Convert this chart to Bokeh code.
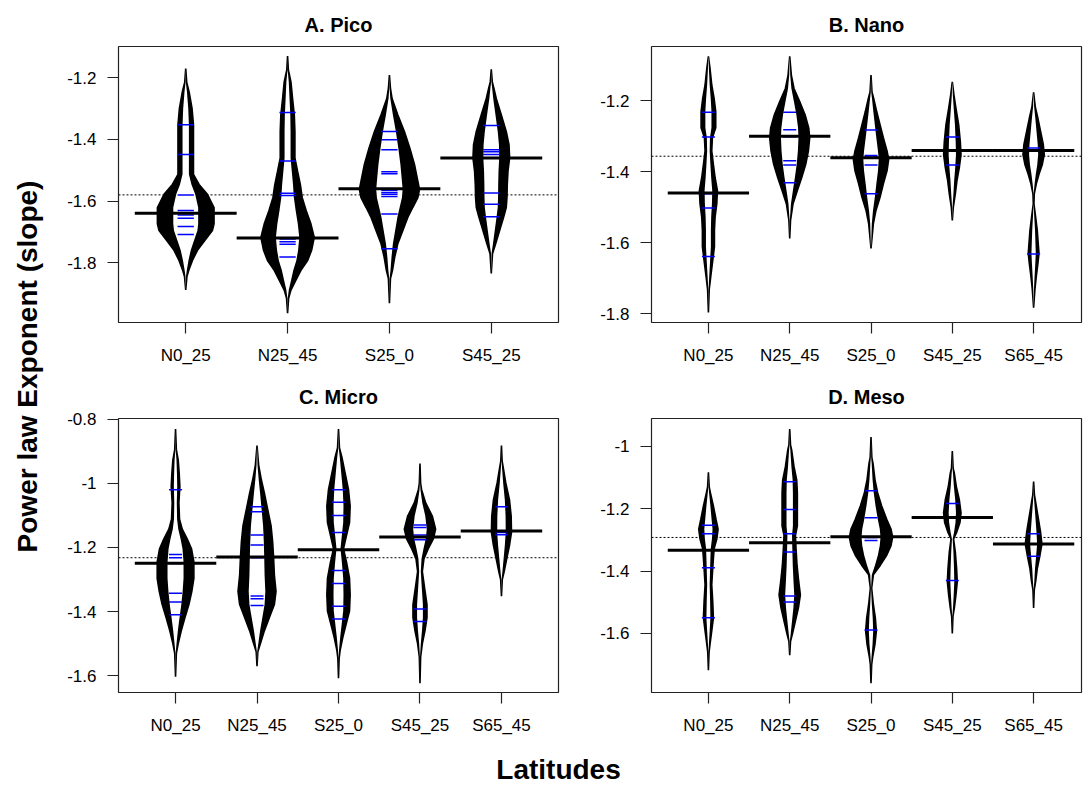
import math
from bokeh.plotting import figure
from bokeh.models import Range1d, FixedTicker, NumeralTickFormatter, Span, Label
from bokeh.layouts import row, column
from bokeh.embed import file_html
from bokeh.resources import INLINE

FONT = "Liberation Sans"

# ---------------- data ----------------
groups4 = ["N0_25", "N25_45", "S25_0", "S45_25"]
groups5 = ["N0_25", "N25_45", "S25_0", "S45_25", "S65_45"]

# A. Pico
pico_means = [-1.64, -1.72, -1.56, -1.46]
pico_overall = -1.58
pico_obs = [
    [-1.352, -1.449, -1.580, -1.631, -1.645, -1.656, -1.683, -1.709],
    [-1.312, -1.470, -1.575, -1.582, -1.723, -1.732, -1.740, -1.782],
    [-1.374, -1.401, -1.433, -1.505, -1.511, -1.565, -1.572, -1.578, -1.585, -1.642, -1.755],
    [-1.355, -1.433, -1.440, -1.449, -1.460, -1.574, -1.610, -1.651],
]
pico_dens_y = [
    [-1.170, -1.215, -1.245, -1.299, -1.352, -1.513, -1.546, -1.578, -1.621, -1.674, -1.696, -1.728, -1.760, -1.793, -1.825, -1.845, -1.889],
    [-1.129, -1.175, -1.186, -1.213, -1.267, -1.320, -1.374, -1.460, -1.503, -1.546, -1.589, -1.632, -1.674, -1.718, -1.760, -1.793, -1.825, -1.857, -1.889, -1.916, -1.964],
    [-1.191, -1.234, -1.267, -1.320, -1.374, -1.428, -1.481, -1.535, -1.562, -1.589, -1.621, -1.653, -1.696, -1.739, -1.782, -1.825, -1.852, -1.932],
    [-1.172, -1.213, -1.234, -1.267, -1.320, -1.374, -1.417, -1.460, -1.503, -1.546, -1.589, -1.621, -1.653, -1.696, -1.739, -1.771, -1.835],
]
pico_dens_w = [
    [0, 0.010, 0.033, 0.062, 0.076, 0.076, 0.131, 0.213, 0.278, 0.278, 0.262, 0.187, 0.115, 0.066, 0.030, 0.012, 0],
    [0, 0.008, 0.016, 0.033, 0.049, 0.066, 0.072, 0.072, 0.098, 0.125, 0.144, 0.184, 0.229, 0.262, 0.236, 0.197, 0.131, 0.082, 0.033, 0.010, 0],
    [0, 0.010, 0.026, 0.082, 0.147, 0.200, 0.246, 0.279, 0.295, 0.279, 0.229, 0.180, 0.131, 0.082, 0.052, 0.030, 0.010, 0],
    [0, 0.010, 0.026, 0.049, 0.098, 0.147, 0.174, 0.180, 0.164, 0.157, 0.154, 0.147, 0.121, 0.082, 0.043, 0.012, 0],
]

# B. Nano
nano_means = [-1.46, -1.30, -1.36, -1.34, -1.34]
nano_overall = -1.356
nano_obs = [
    [-1.232, -1.302, -1.462, -1.502, -1.639],
    [-1.232, -1.281, -1.301, -1.369, -1.381, -1.431],
    [-1.282, -1.354, -1.358, -1.362, -1.381, -1.462],
    [-1.302, -1.381],
    [-1.333, -1.340, -1.632],
]
nano_dens_y = [
    [-1.074, -1.109, -1.155, -1.193, -1.230, -1.276, -1.304, -1.341, -1.379, -1.416, -1.453, -1.490, -1.528, -1.565, -1.611, -1.658, -1.695, -1.732, -1.797],
    [-1.074, -1.127, -1.165, -1.202, -1.239, -1.276, -1.304, -1.341, -1.379, -1.416, -1.453, -1.490, -1.537, -1.588],
    [-1.127, -1.175, -1.193, -1.230, -1.267, -1.304, -1.341, -1.365, -1.397, -1.434, -1.472, -1.509, -1.546, -1.616],
    [-1.146, -1.183, -1.221, -1.267, -1.314, -1.351, -1.388, -1.425, -1.462, -1.500, -1.537],
    [-1.176, -1.216, -1.249, -1.286, -1.323, -1.351, -1.379, -1.407, -1.434, -1.462, -1.490, -1.528, -1.565, -1.602, -1.630, -1.658, -1.695, -1.732, -1.783],
]
nano_dens_w = [
    [0, 0.020, 0.041, 0.070, 0.090, 0.090, 0.049, 0.041, 0.061, 0.082, 0.111, 0.103, 0.082, 0.074, 0.074, 0.049, 0.029, 0.010, 0],
    [0, 0.020, 0.053, 0.123, 0.189, 0.234, 0.246, 0.230, 0.197, 0.148, 0.094, 0.041, 0.010, 0],
    [0, 0.012, 0.033, 0.070, 0.111, 0.152, 0.197, 0.217, 0.197, 0.152, 0.111, 0.061, 0.029, 0],
    [0, 0.020, 0.045, 0.078, 0.098, 0.107, 0.086, 0.057, 0.037, 0.012, 0],
    [0, 0.020, 0.053, 0.086, 0.119, 0.131, 0.107, 0.066, 0.033, 0.008, 0.004, 0.025, 0.045, 0.057, 0.066, 0.053, 0.033, 0.016, 0],
]

# C. Micro
micro_means = [-1.249, -1.23, -1.207, -1.167, -1.149]
micro_overall = -1.232
micro_obs = [
    [-1.020, -1.222, -1.232, -1.250, -1.343, -1.370, -1.410],
    [-1.073, -1.089, -1.161, -1.192, -1.232, -1.351, -1.360, -1.381],
    [-1.020, -1.059, -1.100, -1.153, -1.272, -1.312, -1.383, -1.423],
    [-1.130, -1.138, -1.161, -1.176, -1.392, -1.431],
    [-1.073, -1.153, -1.160],
]
micro_dens_y = [
    [-0.831, -0.895, -0.928, -0.969, -1.010, -1.061, -1.112, -1.143, -1.173, -1.204, -1.245, -1.296, -1.337, -1.378, -1.419, -1.460, -1.500, -1.530, -1.603],
    [-0.882, -0.943, -0.989, -1.030, -1.081, -1.132, -1.183, -1.235, -1.286, -1.337, -1.378, -1.419, -1.460, -1.500, -1.525, -1.570],
    [-0.831, -0.890, -0.918, -0.969, -1.020, -1.071, -1.122, -1.163, -1.204, -1.245, -1.296, -1.347, -1.398, -1.439, -1.480, -1.521, -1.545, -1.608],
    [-0.938, -1.000, -1.020, -1.061, -1.102, -1.143, -1.173, -1.204, -1.235, -1.275, -1.327, -1.378, -1.419, -1.460, -1.500, -1.541, -1.623],
    [-0.882, -0.930, -0.948, -0.999, -1.051, -1.102, -1.153, -1.194, -1.235, -1.275, -1.300, -1.352],
]
micro_dens_w = [
    [0, 0.010, 0.033, 0.045, 0.053, 0.041, 0.049, 0.082, 0.143, 0.196, 0.225, 0.225, 0.200, 0.164, 0.115, 0.070, 0.033, 0.010, 0],
    [0, 0.020, 0.053, 0.090, 0.131, 0.172, 0.192, 0.204, 0.213, 0.233, 0.213, 0.151, 0.090, 0.041, 0.010, 0],
    [0, 0.012, 0.041, 0.082, 0.123, 0.143, 0.135, 0.098, 0.061, 0.098, 0.135, 0.143, 0.135, 0.094, 0.053, 0.020, 0.008, 0],
    [0, 0.008, 0.020, 0.070, 0.151, 0.192, 0.164, 0.102, 0.049, 0.029, 0.057, 0.086, 0.086, 0.061, 0.029, 0.008, 0],
    [0, 0.008, 0.020, 0.053, 0.098, 0.119, 0.123, 0.098, 0.065, 0.033, 0.010, 0],
]

# D. Meso
meso_means = [-1.333, -1.309, -1.29, -1.228, -1.313]
meso_overall = -1.292
meso_obs = [
    [-1.253, -1.280, -1.389, -1.550],
    [-1.113, -1.202, -1.280, -1.339, -1.480, -1.499],
    [-1.142, -1.229, -1.292, -1.302, -1.589],
    [-1.183, -1.228, -1.430],
    [-1.280, -1.352],
]
meso_dens_y = [
    [-1.083, -1.130, -1.149, -1.191, -1.234, -1.265, -1.297, -1.328, -1.360, -1.392, -1.444, -1.497, -1.550, -1.592, -1.634, -1.660, -1.718],
    [-0.944, -0.995, -1.013, -1.065, -1.107, -1.149, -1.255, -1.286, -1.328, -1.381, -1.434, -1.476, -1.518, -1.560, -1.602, -1.625, -1.670],
    [-0.970, -1.035, -1.055, -1.107, -1.149, -1.191, -1.234, -1.265, -1.291, -1.318, -1.349, -1.381, -1.412, -1.455, -1.507, -1.550, -1.592, -1.634, -1.676, -1.700, -1.760],
    [-1.015, -1.070, -1.086, -1.128, -1.171, -1.213, -1.244, -1.276, -1.297, -1.339, -1.392, -1.434, -1.476, -1.518, -1.545, -1.600],
    [-1.113, -1.155, -1.171, -1.223, -1.276, -1.313, -1.349, -1.392, -1.434, -1.460, -1.518],
]
meso_dens_w = [
    [0, 0.010, 0.025, 0.061, 0.094, 0.119, 0.103, 0.070, 0.061, 0.053, 0.041, 0.053, 0.061, 0.041, 0.020, 0.008, 0],
    [0, 0.010, 0.025, 0.053, 0.086, 0.094, 0.094, 0.070, 0.078, 0.090, 0.111, 0.131, 0.107, 0.070, 0.033, 0.010, 0],
    [0, 0.010, 0.025, 0.049, 0.082, 0.131, 0.193, 0.246, 0.266, 0.246, 0.193, 0.115, 0.029, 0.008, 0.029, 0.053, 0.066, 0.049, 0.020, 0.008, 0],
    [0, 0.010, 0.025, 0.049, 0.086, 0.107, 0.094, 0.053, 0.016, 0.037, 0.053, 0.061, 0.045, 0.025, 0.008, 0],
    [0, 0.010, 0.020, 0.053, 0.086, 0.102, 0.078, 0.045, 0.025, 0.008, 0],
]

pico_yticks = [-1.8, -1.6, -1.4, -1.2]
nano_yticks = [-1.8, -1.6, -1.4, -1.2]
micro_yticks = [-1.6, -1.4, -1.2, -1.0, -0.8]
meso_yticks = [-1.6, -1.4, -1.2, -1.0]


# ---------------- drawing ----------------
def make_panel(title, groups, means, overall, obs, dens_y, dens_w, xr, yr, yticks,
               width, height, mb_left, mb_right, mb_top, mb_bottom):
    p = figure(width=width, height=height, x_range=Range1d(*xr), y_range=Range1d(*yr),
               output_backend="svg", toolbar_location=None, title=title,
               min_border_left=mb_left, min_border_right=mb_right,
               min_border_top=mb_top, min_border_bottom=mb_bottom)
    p.title.align = "center"
    p.title.standoff = 22
    p.title.text_font = FONT
    p.title.text_font_size = "20px"
    p.title.text_font_style = "bold"
    p.title.text_color = "black"
    p.xgrid.visible = False
    p.ygrid.visible = False
    p.outline_line_color = "#222222"
    p.outline_line_width = 1.2
    p.background_fill_color = "white"
    p.border_fill_color = "white"

    # overall mean (dotted)
    p.add_layout(Span(location=overall, dimension="width", line_color="black",
                      line_dash="2 2", line_width=1, level="underlay"))

    xs_o, ys_o, xs_i, ys_i = [], [], [], []
    for i, (vy, vw) in enumerate(zip(dens_y, dens_w)):
        c = i + 1
        xs_o.append([c + w for w in vw] + [c - w for w in reversed(vw)])
        ys_o.append(list(vy) + list(reversed(vy)))
        wi = [max(0.0, 0.45 * w - 0.003) for w in vw]
        xs_i.append([c + w for w in wi] + [c - w for w in reversed(wi)])
        ys_i.append(list(vy) + list(reversed(vy)))
    p.patches(xs_o, ys_o, fill_color="black", line_color="black", line_width=1.6)
    p.patches(xs_i, ys_i, fill_color="white", line_color=None)

    bx0, bx1, by = [], [], []
    for i, vals in enumerate(obs):
        for v in vals:
            bx0.append(i + 1 - 0.08)
            bx1.append(i + 1 + 0.08)
            by.append(v)
    p.segment(x0=bx0, y0=by, x1=bx1, y1=by, line_color="#0000ff", line_width=1.5)

    mx0 = [i + 1 - 0.5 for i in range(len(means))]
    mx1 = [i + 1 + 0.5 for i in range(len(means))]
    p.segment(x0=mx0, y0=means, x1=mx1, y1=means, line_color="black", line_width=3)

    p.xaxis.ticker = FixedTicker(ticks=list(range(1, len(groups) + 1)))
    p.xaxis.major_label_overrides = {i + 1: g for i, g in enumerate(groups)}
    p.yaxis.ticker = FixedTicker(ticks=yticks)
    p.yaxis.formatter = NumeralTickFormatter(format="0.[0]")
    for ax in (p.xaxis, p.yaxis):
        ax.axis_line_color = None
        ax.major_tick_out = 11
        ax.major_tick_in = 0
        ax.minor_tick_out = 0
        ax.minor_tick_in = 0
        ax.major_tick_line_color = "#222222"
        ax.major_tick_line_width = 1.2
        ax.major_label_text_font = FONT
        ax.major_label_text_font_size = "17px"
        ax.major_label_text_color = "black"
    p.xaxis.major_label_standoff = 12
    p.yaxis.major_label_standoff = 11
    return p


pA = make_panel("A. Pico", groups4, pico_means, pico_overall, pico_obs, pico_dens_y, pico_dens_w,
                (0.34, 4.66), (-1.9945, -1.098), pico_yticks, 535, 372, 65, 30, 44, 50)
pB = make_panel("B. Nano", groups5, nano_means, nano_overall, nano_obs, nano_dens_y, nano_dens_w,
                (0.3, 5.589), (-1.825, -1.0465), nano_yticks, 495, 372, 63, 2, 44, 50)
pC = make_panel("C. Micro", groups5, micro_means, micro_overall, micro_obs, micro_dens_y, micro_dens_w,
                (0.3, 5.7), (-1.6522, -0.7979), micro_yticks, 535, 367, 65, 30, 42, 47)
pD = make_panel("D. Meso", groups5, meso_means, meso_overall, meso_obs, meso_dens_y, meso_dens_w,
                (0.3, 5.589), (-1.7895, -0.9103), meso_yticks, 495, 367, 63, 2, 42, 47)

# shared axis labels
left = figure(width=53, height=785, x_range=Range1d(0, 53), y_range=Range1d(0, 785),
              output_backend="svg", toolbar_location=None, min_border=0,
              x_axis_location=None, y_axis_location=None)
left.grid.visible = False
left.outline_line_color = None
left.add_layout(Label(x=27, y=419, text="Power law Exponent (slope)", angle=math.pi / 2,
                      text_align="center", text_baseline="middle", text_font=FONT,
                      text_font_size="28px", text_font_style="bold", text_color="black"))

bottom = figure(width=1030, height=46, x_range=Range1d(0, 1030), y_range=Range1d(0, 46),
                output_backend="svg", toolbar_location=None, min_border=0,
                x_axis_location=None, y_axis_location=None)
bottom.grid.visible = False
bottom.outline_line_color = None
bottom.add_layout(Label(x=505, y=16, text="Latitudes", text_align="center",
                        text_baseline="middle", text_font=FONT, text_font_size="28px",
                        text_font_style="bold", text_color="black"))

layout = row(left, column(row(pA, pB), row(pC, pD), bottom))

with open("out.html", "w") as f:
    f.write(file_html(layout, INLINE))
